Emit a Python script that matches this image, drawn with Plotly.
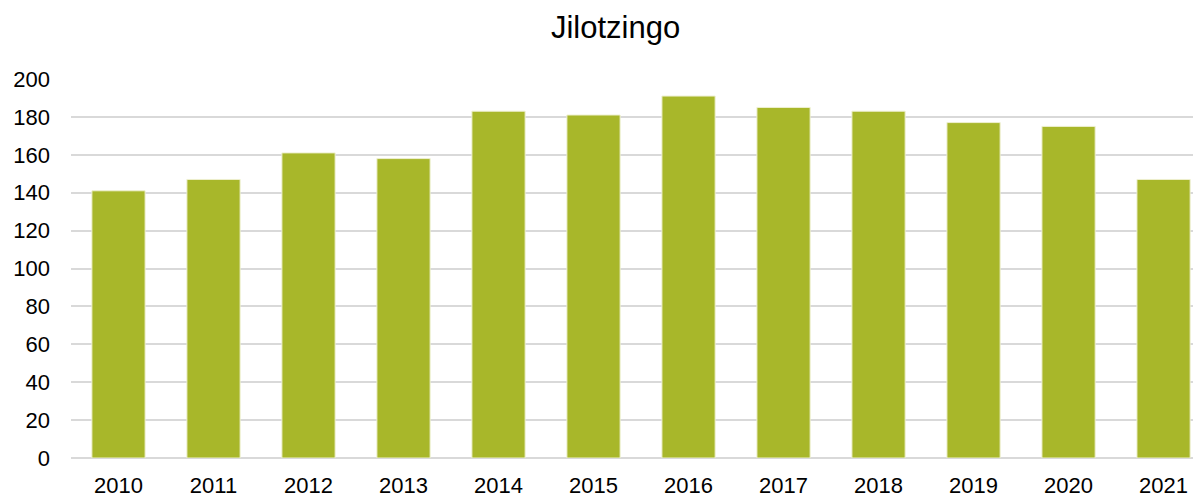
import plotly.graph_objects as go

years = ["2010", "2011", "2012", "2013", "2014", "2015",
         "2016", "2017", "2018", "2019", "2020", "2021"]
values = [141, 147, 161, 158, 183, 181, 191, 185, 183, 177, 175, 147]

BAR_COLOR = "#A8B72A"
GRID_COLOR = "#D9D9D9"

fig = go.Figure()
fig.add_trace(go.Bar(
    x=years,
    y=values,
    marker=dict(color=BAR_COLOR, line=dict(color="#EEF0D0", width=1)),
))

fig.update_layout(
    width=1193,
    height=498,
    margin=dict(l=71, r=0, t=79, b=40),
    paper_bgcolor="white",
    plot_bgcolor="white",
    bargap=0.44,
    showlegend=False,
    font=dict(family="Liberation Sans, Arial, sans-serif", color="black"),
    title=dict(
        text="Jilotzingo",
        x=0.516,
        xanchor="center",
        y=0.946,
        yanchor="middle",
        yref="container",
        font=dict(size=31, color="black"),
    ),
)

fig.update_xaxes(
    type="category",
    range=[-0.5, 11.31],
    showgrid=False,
    showline=False,
    automargin=False,
    tickfont=dict(size=22),
    ticklabelstandoff=12,
)
fig.update_yaxes(
    range=[0, 200],
    dtick=20,
    showgrid=True,
    gridcolor=GRID_COLOR,
    gridwidth=2,
    zeroline=True,
    zerolinecolor=GRID_COLOR,
    zerolinewidth=2,
    automargin=False,
    tickfont=dict(size=22),
    ticklabelstandoff=20,
)

# the page body has a default 8px margin; drop it so the figure sits at 0,0
fig.write_html(
    "out.html",
    config={"displayModeBar": False},
    post_script="document.body.style.margin='0';document.body.style.overflow='hidden';",
)
